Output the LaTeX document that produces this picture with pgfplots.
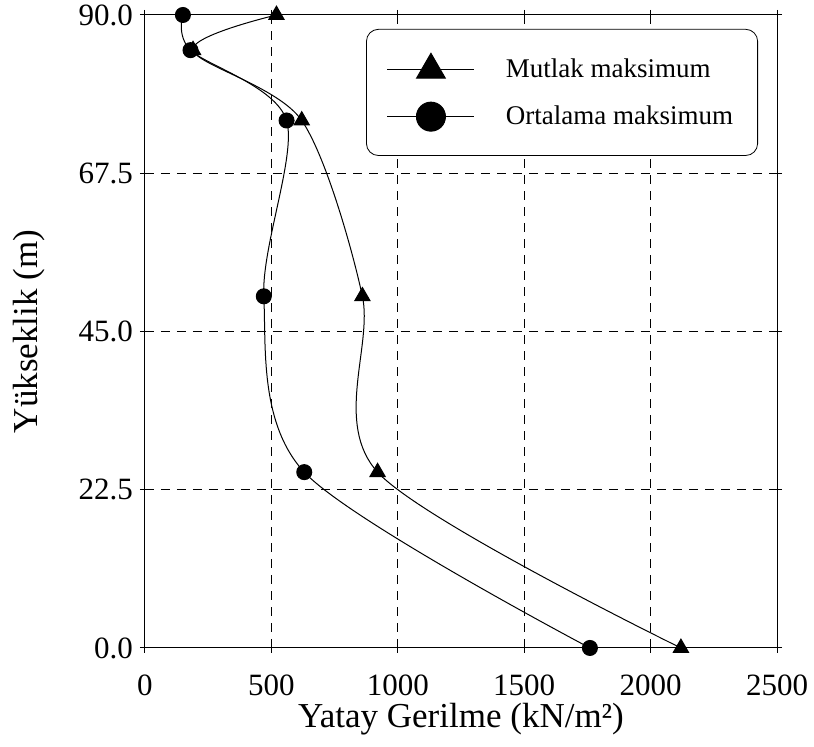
\documentclass[border=0pt]{standalone}
\usepackage{pgfplots}
\pgfplotsset{compat=1.18}
\usepackage{fontspec}
\setmainfont{Liberation Serif}

\begin{document}
\begin{tikzpicture}
\begin{axis}[
    scale only axis,
    width=316pt, height=316.5pt,
    xmin=0, xmax=2500, ymin=0, ymax=90,
    xtick={0,500,...,2500},
    ytick={0,22.5,45,67.5,90},
    /pgf/number format/assume math mode=true,
    x tick label style={font=\fontsize{15.5}{17}\selectfont, /pgf/number format/1000 sep=,
        anchor=base, yshift=-21.5pt},
    y tick label style={font=\fontsize{15.5}{17}\selectfont,
        /pgf/number format/fixed, /pgf/number format/fixed zerofill,
        /pgf/number format/precision=1},
    tick align=outside, tick pos=both,
    major tick length=2.5pt,
    tick style={black, line width=0.5pt},
    axis line style={line width=0.5pt},
    grid=major,
    major grid style={black, dash pattern=on 4.5pt off 3.5pt, line width=0.5pt},
    xlabel={Yatay Gerilme (kN/m²)},
    ylabel={Yükseklik (m)},
    xlabel style={font=\fontsize{17.5}{19}\selectfont,
        at={([yshift=-40pt]axis description cs:0.5,0)}, anchor=base},
    ylabel style={font=\fontsize{17.5}{19}\selectfont,
        at={([xshift=-53.5pt]axis description cs:0,0.5)}, anchor=base},
    legend style={at={(0.970,0.978)}, anchor=north east, draw=black,
        rounded corners=6pt, font=\fontsize{13.5}{15}\selectfont,
        row sep=8.5pt, inner xsep=10.25pt, inner ysep=12pt, column sep=13.5pt},
    legend cell align=left,
    legend image code/.code={\draw[mark repeat=2,mark phase=2,#1] plot coordinates {(0pt,0pt) (21.75pt,0pt) (43.5pt,0pt)};},
]
% Mutlak maksimum
\addplot[black, line width=0.5pt, smooth, mark=triangle*, mark size=4.4pt, forget plot]
    coordinates {(2120,0) (920,25) (860,50) (620,75) (190,85) (520,90)};
% Ortalama maksimum
\addplot[black, line width=0.5pt, smooth, mark=*, mark size=3.75pt, forget plot]
    coordinates {(1760,0) (630,25) (470,50) (560,75) (180,85) (150,90)};

\addlegendimage{black, line width=0.5pt, mark=triangle*, mark size=8.3pt}
\addlegendentry{Mutlak maksimum}
\addlegendimage{black, line width=0.5pt, mark=*, mark size=7.25pt}
\addlegendentry{Ortalama maksimum}
\end{axis}
\pgfresetboundingbox
\path ([shift={(-72.5pt,-49.5pt)}]current axis.south west) rectangle ([shift={(18.5pt,7.5pt)}]current axis.north east);
\end{tikzpicture}
\end{document}
